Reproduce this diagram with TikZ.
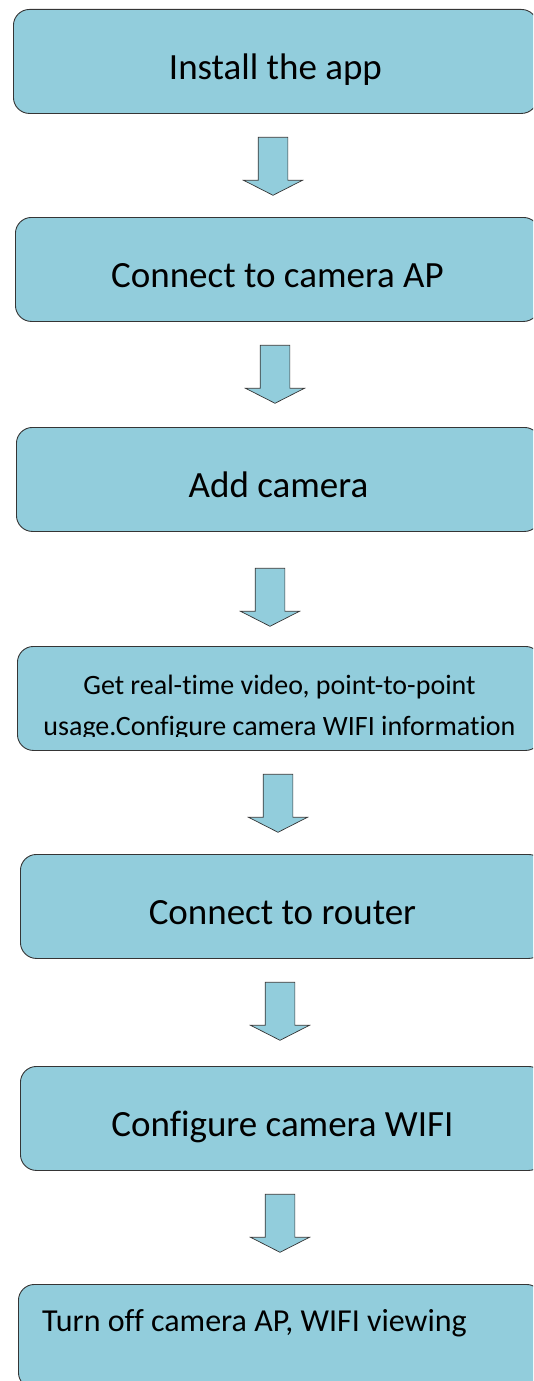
\documentclass[tikz,border=0pt]{standalone}
\usepackage{fontspec}
\setmainfont{Carlito}[Ligatures={NoCommon,NoContextual}]
\usepackage{tikz}
\usetikzlibrary{shapes.arrows}

\definecolor{stepfill}{HTML}{92CDDC}
\definecolor{stepline}{HTML}{353535}

\begin{document}
\begin{tikzpicture}[x=1pt,y=-1pt, % 像素坐标, y 向下
  stepbox/.style={draw=stepline,fill=stepfill,line width=0.9pt,rounded corners=16pt,
    anchor=north west,minimum width=524pt,minimum height=104pt,inner sep=0pt},
  steptext/.style={anchor=base,inner sep=0pt,font=\fontsize{37}{44}\selectfont},
  smalltext/.style={anchor=base,inner sep=0pt,font=\fontsize{28}{34}\selectfont},
  downarrow/.style={single arrow,shape border rotate=270,draw=stepline,fill=stepfill,
    line width=0.7pt,minimum height=58pt,inner sep=14.5pt,
    single arrow head extend=14.5pt,single arrow tip angle=126},
]
  \useasboundingbox (0,0) rectangle (533,1381);
  \clip (0,0) rectangle (533,1381);
  % 步骤框
  \node [stepbox] (install) at (13,9) {};
  \node [steptext] at ([yshift=-70pt]install.north) {Install the app};
  \node [stepbox] (connectap) at (15,217) {};
  \node [steptext] at ([yshift=-70pt]connectap.north) {Connect to camera AP};
  \node [stepbox] (addcam) at (16,427) {};
  \node [steptext] at ([yshift=-70pt]addcam.north) {Add camera};
  \node [stepbox] (getvideo) at (17,646) {};
  \node [smalltext] at ([yshift=-48pt]getvideo.north) {Get real-time video, point-to-point};
  \begin{scope}
    \clip (0,700) rectangle (533,736); % 第二行底部被截掉
    \node [smalltext] at ([yshift=-89pt]getvideo.north) {usage.Configure camera WIFI information};
  \end{scope}
  \node [stepbox] (router) at (20,854) {};
  \node [steptext] at ([yshift=-70pt]router.north) {Connect to router};
  \node [stepbox] (configwifi) at (20,1066) {};
  \node [steptext] at ([yshift=-70pt]configwifi.north) {Configure camera WIFI};
  \node [stepbox] (turnoff) at (18,1284) {};
  \node [smalltext,anchor=base west,font=\fontsize{32}{38}\selectfont] at (42,1331) {Turn off camera AP, WIFI viewing};
  % 箭头
  \node [downarrow] (arr1) at (273,162.5) {};
  \node [downarrow] (arr2) at (275,370.5) {};
  \node [downarrow] (arr3) at (270,593.5) {};
  \node [downarrow] (arr4) at (278,799.5) {};
  \node [downarrow] (arr5) at (280,1007.5) {};
  \node [downarrow] (arr6) at (280,1219.5) {};
\end{tikzpicture}
\end{document}
